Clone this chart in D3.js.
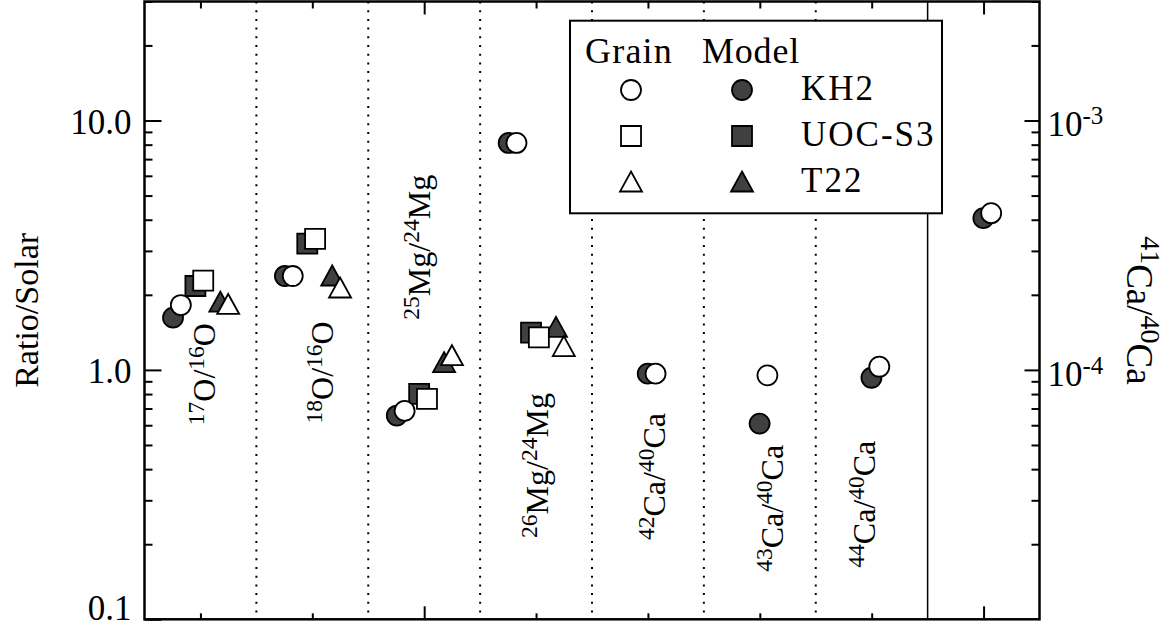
<!DOCTYPE html>
<html>
<head>
<meta charset="utf-8">
<script src="https://cdnjs.cloudflare.com/ajax/libs/d3/7.8.5/d3.min.js"></script>
<style>
body { margin: 0; background: #fff; }
</style>
</head>
<body>
<svg id="chart"></svg>
<script>
var width = 1173,
    height = 627;
var serif = "'Liberation Serif', 'DejaVu Serif', 'Times New Roman', serif";

// ratio names, "^" marks a superscript mass number
var categories = ["^17O/^16O", "^18O/^16O", "^25Mg/^24Mg", "^26Mg/^24Mg",
    "^42Ca/^40Ca", "^43Ca/^40Ca", "^44Ca/^40Ca", "^41Ca/^40Ca"];
var models = ["KH2", "UOC-S3", "T22"];

// ratio / solar; the last column is the absolute 41Ca/40Ca (right axis)
var grainKH2 = [1.82, 2.38, 0.685, 8.13, 0.966, 0.951, 1.03, 4.25e-4];
var modelKH2 = [1.62, 2.38, 0.656, 8.13, 0.966, 0.609, 0.930, 4.06e-4];
var grainUOC = [2.28, 3.35, 0.765, 1.35, null, null, null, null];
var modelUOC = [2.17, 3.21, 0.801, 1.41, null, null, null, null];
var grainT22 = [1.83, 2.13, 1.14, 1.24, null, null, null, null];
var modelT22 = [1.87, 2.38, 1.07, 1.48, null, null, null, null];

var leftTicks = [0.1, 1, 10];
var leftTickLabels = ["0.1", "1.0", "10.0"];
var rightTicks = [1e-4, 1e-3];
var rightTickLabels = ["10^-4", "10^-3"];

// layout: where the rotated ratio names start (in ratio units) and their shift in px
var labelAt = [0.60, 0.61, 1.59, 0.212, 0.208, 0.155, 0.161];
var labelDx = [15, 21, 6, 12, 17, 23, 3];
// x offsets inside a category (in category units)
var symOffset = [-0.21, -0.01, 0.213];
var caOffset = 0.033;
var pairOffset = 0.035;

var svg = d3.select("#chart")
    .attr("width", width)
    .attr("height", height)
    .style("font-family", serif);

var x = d3.scaleLinear().domain([0, 8]).range([144.5, 1039.5]);
var y = d3.scaleLog().domain([0.1, 30]).range([619.3, 1.5]);
var y2 = d3.scaleLog().domain([1e-5, 3e-3]).range([619.3, 1.5]);

function minorTicks(lo, hi) {
    var out = [];
    for (var d = lo; d < hi; d *= 10) {
        for (var k = 2; k <= 9; k++) {
            if (d * k <= hi) out.push(d * k);
        }
    }
    return out;
}

// writes "^17O/^16O" style text as tspans
function richText(sel, str, size, supSize, raise) {
    var parts = str.match(/\^[-\d]+|[^\^]+/g);
    var up = false;
    sel.style("font-family", serif);
    parts.forEach(function(p) {
        if (p[0] === "^") {
            sel.append("tspan").text(p.slice(1))
                .style("font-size", supSize + "px")
                .attr("dy", up ? 0 : -raise);
            up = true;
        } else {
            sel.append("tspan").text(p)
                .style("font-size", size + "px")
                .attr("dy", up ? raise : 0);
            up = false;
        }
    });
}

// dividers between ratios
var dividers = d3.range(1, 8);
svg.selectAll("line.divider").data(dividers).enter().append("line")
    .attr("class", "divider")
    .attr("x1", function(d) { return x(d); })
    .attr("x2", function(d) { return x(d); })
    .attr("y1", y(30))
    .attr("y2", y(0.1))
    .attr("stroke", "#000")
    .attr("stroke-width", function(d) { return d === 7 ? 1.5 : 2; })
    .attr("stroke-dasharray", function(d) { return d === 7 ? null : "2,6.7"; });

// axes
var centers = d3.range(8).map(function(i) { return i + 0.5; });
var majorX = [2.5, 7.5];

function styleAxis(g) {
    g.attr("font-family", null);
    g.select(".domain").remove();
    g.selectAll("line").attr("stroke", "#000").attr("stroke-width", 2);
}

svg.append("g").attr("transform", "translate(0," + y(30) + ")")
    .call(d3.axisTop(x).tickValues(centers).tickFormat("")
        .tickSizeInner(-7).tickSizeOuter(0))
    .call(styleAxis)
    .selectAll(".tick line")
    .attr("y2", function(d) { return majorX.indexOf(d) >= 0 ? 13 : 7; });

svg.append("g").attr("transform", "translate(0," + y(0.1) + ")")
    .call(d3.axisBottom(x).tickValues(centers).tickFormat("")
        .tickSizeInner(-6).tickSizeOuter(0))
    .call(styleAxis)
    .selectAll(".tick line")
    .attr("y2", function(d) { return majorX.indexOf(d) >= 0 ? -13 : -6; });

svg.append("g").attr("transform", "translate(" + x(0) + ",0)")
    .call(d3.axisLeft(y).tickValues(minorTicks(0.1, 30)).tickFormat("")
        .tickSizeInner(-8).tickSizeOuter(0))
    .call(styleAxis);

var leftAxis = svg.append("g").attr("transform", "translate(" + x(0) + ",0)")
    .call(d3.axisLeft(y).tickValues(leftTicks)
        .tickFormat(function(d, i) { return leftTickLabels[i]; })
        .tickSizeInner(-17).tickSizeOuter(0).tickPadding(13))
    .call(styleAxis);
leftAxis.selectAll("text")
    .style("font-family", serif)
    .style("font-size", "35px")
    .attr("dy", function(d) { return d === 0.1 ? "0em" : "0.37em"; });

svg.append("g").attr("transform", "translate(" + x(8) + ",0)")
    .call(d3.axisRight(y2).tickValues(minorTicks(1e-5, 3e-3)).tickFormat("")
        .tickSizeInner(-8).tickSizeOuter(0))
    .call(styleAxis);

var rightAxis = svg.append("g").attr("transform", "translate(" + x(8) + ",0)")
    .call(d3.axisRight(y2).tickValues(rightTicks).tickFormat("")
        .tickSizeInner(-15).tickSizeOuter(0))
    .call(styleAxis);
rightAxis.selectAll(".tick").append("text")
    .attr("x", 8)
    .attr("y", 15.5)
    .attr("text-anchor", "start")
    .attr("fill", "#000")
    .each(function(d, i) {
        richText(d3.select(this), rightTickLabels[i], 35, 25, 12);
    });

// frame
svg.append("rect")
    .attr("x", x(0))
    .attr("y", y(30))
    .attr("width", x(8) - x(0))
    .attr("height", y(0.1) - y(30))
    .attr("fill", "none")
    .attr("stroke", "#000")
    .attr("stroke-width", 2.5);

// axis titles
svg.append("text")
    .attr("transform", "translate(38," + ((y(30) + y(0.1)) / 2) + ") rotate(-90)")
    .attr("text-anchor", "middle")
    .style("font-family", serif)
    .style("font-size", "34px")
    .text("Ratio/Solar");

var rTitle = svg.append("text")
    .attr("transform", "translate(1127," + ((y(30) + y(0.1)) / 2) + ") rotate(90)")
    .attr("text-anchor", "middle");
richText(rTitle, categories[7], 37, 28, 14);

// ratio names inside the panels
categories.slice(0, 7).forEach(function(c, i) {
    var t = svg.append("text")
        .attr("transform", "translate(" + (x(i + 0.5) + labelDx[i]) + "," + y(labelAt[i]) + ") rotate(-90)")
        .attr("text-anchor", "start");
    richText(t, c, 32, 23.5, 11);
});

// points
var series = [
    { sym: 0, grain: grainKH2, model: modelKH2 },
    { sym: 1, grain: grainUOC, model: modelUOC },
    { sym: 2, grain: grainT22, model: modelT22 }
];

function symbolPath(sym) {
    if (sym === 0) return "M10,0A10,10 0 1,1 -10,0A10,10 0 1,1 10,0Z";
    if (sym === 1) return "M-10,-10H10V10H-10Z";
    return "M0,-10.5L11,9.5L-11,9.5Z";
}

function pointsFor(kind) {
    var pts = [];
    series.forEach(function(s) {
        s[kind].forEach(function(v, i) {
            if (v == null) return;
            var off = i >= 4 ? caOffset : symOffset[s.sym];
            off += kind === "grain" ? pairOffset : -pairOffset;
            pts.push({
                sym: s.sym,
                px: x(i + 0.5 + off),
                py: i === 7 ? y2(v) : y(v)
            });
        });
    });
    return pts;
}

["model", "grain"].forEach(function(kind) {
    svg.append("g").selectAll("path").data(pointsFor(kind)).enter().append("path")
        .attr("d", function(d) { return symbolPath(d.sym); })
        .attr("transform", function(d) { return "translate(" + d.px + "," + d.py + ")"; })
        .attr("fill", kind === "model" ? "#404040" : "#fff")
        .attr("stroke", "#000")
        .attr("stroke-width", 1.8)
        .attr("stroke-linejoin", "miter");
});

// legend
var legend = svg.append("g");
legend.append("rect")
    .attr("x", 570)
    .attr("y", 20.7)
    .attr("width", 372)
    .attr("height", 192.6)
    .attr("fill", "#fff")
    .attr("stroke", "#000")
    .attr("stroke-width", 2);

legend.append("text").attr("x", 585).attr("y", 63.3)
    .style("font-family", serif)
    .style("font-size", "36px")
    .style("letter-spacing", "1.2px").text("Grain");
legend.append("text").attr("x", 702).attr("y", 63.3)
    .style("font-family", serif)
    .style("font-size", "36px")
    .style("letter-spacing", "0.8px").text("Model");

models.forEach(function(m, i) {
    var ry = 90 + i * 46;
    legend.append("path")
        .attr("d", symbolPath(i))
        .attr("transform", "translate(631," + ry + ")")
        .attr("fill", "#fff")
        .attr("stroke", "#000")
        .attr("stroke-width", 1.8);
    legend.append("path")
        .attr("d", symbolPath(i))
        .attr("transform", "translate(742," + ry + ")")
        .attr("fill", "#404040")
        .attr("stroke", "#000")
        .attr("stroke-width", 1.8);
    legend.append("text")
        .attr("x", 801)
        .attr("y", ry + 10)
        .style("font-family", serif)
        .style("font-size", "35px")
        .style("letter-spacing", "2px")
        .text(m);
});
</script>
</body>
</html>
